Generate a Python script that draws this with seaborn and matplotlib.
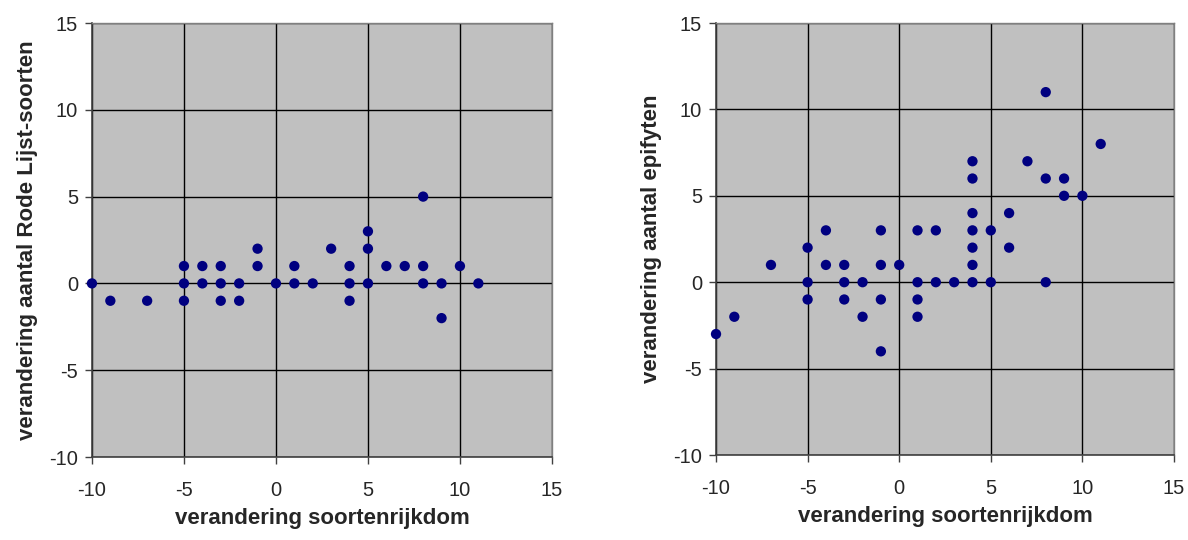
import pandas as pd
import seaborn as sns
import matplotlib.pyplot as plt

# left panel: change in species richness vs change in red list species
rl_x = [-10, -9, -7, -5, -5, -5, -4, -4, -3, -3, -3, -2, -2, -1, -1, 0, 1, 1, 2,
        3, 4, 4, 4, 5, 5, 5, 6, 7, 8, 8, 8, 9, 9, 10, 11]
rl_y = [0, -1, -1, 1, 0, -1, 1, 0, 1, 0, -1, 0, -1, 2, 1, 0, 1, 0, 0,
        2, 1, 0, -1, 3, 2, 0, 1, 1, 5, 1, 0, 0, -2, 1, 0]

# right panel: change in species richness vs change in epiphytes
ep_x = [-10, -9, -7, -5, -5, -5, -4, -4, -3, -3, -3, -2, -2, -1, -1, -1, -1, 0,
        1, 1, 1, 1, 2, 2, 3, 4, 4, 4, 4, 4, 4, 4, 5, 5, 6, 6, 7, 8, 8, 8, 9, 9, 10, 11]
ep_y = [-3, -2, 1, 2, 0, -1, 3, 1, 1, 0, -1, 0, -2, 3, 1, -1, -4, 1,
        3, 0, -1, -2, 3, 0, 0, 7, 6, 4, 3, 2, 1, 0, 3, 0, 4, 2, 7, 11, 6, 0, 6, 5, 5, 8]

ticks = [-10, -5, 0, 5, 10, 15]
xlab = "verandering soortenrijkdom"
ylabs = ["verandering aantal Rode Lijst-soorten", "verandering aantal epifyten"]

sns.set_style("white")
plt.rcParams['font.family'] = ['Liberation Sans', 'DejaVu Sans']
plt.rcParams['axes.unicode_minus'] = False

fig = plt.figure(figsize=(11.88, 5.4), dpi=100)
ax1 = fig.add_axes([0.0774, 0.1537, 0.3872, 0.8037])
ax2 = fig.add_axes([0.6027, 0.1574, 0.3855, 0.8000])

panels = [(ax1, rl_x, rl_y, ylabs[0]), (ax2, ep_x, ep_y, ylabs[1])]
for ax, xs, ys, yl in panels:
    df = pd.DataFrame({'x': xs, 'y': ys})
    ax.set_facecolor('#C0C0C0')
    ax.set_xlim(-10, 15)
    ax.set_ylim(-10, 15)
    ax.set_xticks(ticks)
    ax.set_yticks(ticks)
    ax.grid(True, color='black', linewidth=1)
    ax.set_axisbelow(True)
    sns.scatterplot(data=df, x='x', y='y', ax=ax, color='#000080', s=55,
                    edgecolor='none', clip_on=False, zorder=3)
    for side in ['top', 'right']:
        ax.spines[side].set_color('#808080')
        ax.spines[side].set_linewidth(1)
    for side in ['left', 'bottom']:
        ax.spines[side].set_color('#404040')
        ax.spines[side].set_linewidth(1.2)
    ax.tick_params(direction='out', length=5, width=1, color='#404040',
                   labelsize=14.5, left=True, bottom=True)
    ax.tick_params(axis='x', pad=12)
    ax.tick_params(axis='y', pad=5)
    ax.set_xlabel(xlab, fontsize=16, fontweight='bold', labelpad=6)
    ax.set_ylabel(yl, fontsize=16, fontweight='bold', labelpad=8)

fig.savefig("out.png", dpi=100, facecolor='w')
